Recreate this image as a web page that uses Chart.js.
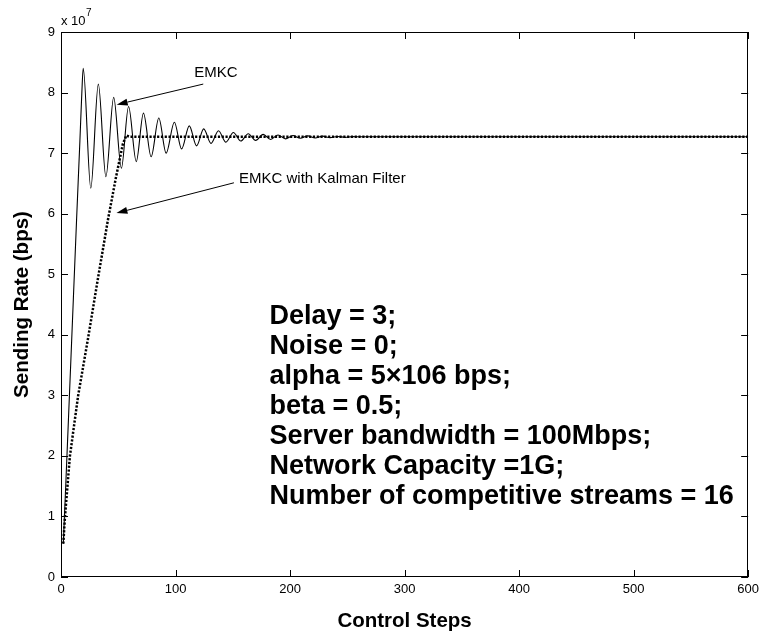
<!DOCTYPE html>
<html><head><meta charset="utf-8">
<script src="https://cdn.jsdelivr.net/npm/chart.js@4.4.1/dist/chart.umd.min.js"></script>
<style>html,body{margin:0;padding:0;background:#fff;} canvas{display:block;}</style>
</head><body>
<canvas id="c" width="764" height="635"></canvas>
<script>
// ---- data (rates in units of 10^7 bps) ----
const emkcSteps = [2, 4, 6.5, 9.3, 13.6, 16.5, 18.2, 19.4,
  26, 32.6, 39.2, 46, 52.7, 59, 65.7, 72, 78.7, 85.4, 91.8, 99, 105.3, 112, 118.4, 124.6,
  131, 137.5, 144, 150.5, 157, 163.5, 170, 176.5, 183, 189.5, 196, 202.5, 209, 215.5,
  222, 228.5, 235, 241.5, 248, 254.5, 261, 600];
const emkcRate = [0.55, 1.45, 2.6, 3.9, 5.9, 7.2, 8.0, 8.40,
  6.42, 8.14, 6.61, 7.92, 6.75, 7.77, 6.86, 7.66, 6.94, 7.58, 7.00, 7.51, 7.07, 7.45, 7.12, 7.40,
  7.16, 7.37, 7.18, 7.34, 7.20, 7.32, 7.21, 7.31, 7.225, 7.30, 7.235, 7.29, 7.245, 7.285,
  7.25, 7.28, 7.255, 7.275, 7.26, 7.272, 7.27, 7.27];
const kalmanSteps = [2, 3.5, 7.8, 15, 23.7, 32, 41, 48, 54, 57, 60, 600];
const kalmanRate = [0.55, 1.0, 2.0, 3.0, 3.95, 4.9, 5.9, 6.6, 7.15, 7.29, 7.27, 7.27];
const xTickValues = [0, 100, 200, 300, 400, 500, 600];
const yTickValues = [0, 1, 2, 3, 4, 5, 6, 7, 8, 9];
const paramLines = ["Delay = 3;", "Noise = 0;", "alpha = 5\u00d7106 bps;", "beta = 0.5;",
  "Server bandwidth = 100Mbps;", "Network Capacity =1G;", "Number of competitive streams = 16"];
const seriesNames = ["EMKC", "EMKC with Kalman Filter"];

const FONT = "'Liberation Sans', Arial, Helvetica, sans-serif";
Chart.defaults.font.family = FONT;
Chart.defaults.color = '#000';

const toPts = (xs, ys) => xs.map((x, i) => ({x: x, y: ys[i]}));

function arrow(ctx, x1, y1, x2, y2) {
  const ang = Math.atan2(y2 - y1, x2 - x1);
  const L = 11, W = 3.5;
  const bx = x2 - L * Math.cos(ang), by = y2 - L * Math.sin(ang);
  ctx.beginPath();
  ctx.moveTo(x1, y1); ctx.lineTo(bx, by); ctx.stroke();
  ctx.beginPath();
  ctx.moveTo(x2, y2);
  ctx.lineTo(bx + W * Math.sin(ang), by - W * Math.cos(ang));
  ctx.lineTo(bx - W * Math.sin(ang), by + W * Math.cos(ang));
  ctx.closePath(); ctx.fill();
}

const decor = {
  id: 'decor',
  afterDraw(chart) {
    const {ctx, chartArea: a, scales: {x, y}} = chart;
    ctx.save();
    ctx.strokeStyle = '#000'; ctx.fillStyle = '#000'; ctx.lineWidth = 1;
    // frame
    ctx.strokeRect(Math.round(a.left) + 0.5, Math.round(a.top) + 0.5,
      Math.round(a.right - a.left) - 1, Math.round(a.bottom - a.top) - 1);
    // inner ticks
    const T = 7;
    ctx.beginPath();
    xTickValues.forEach(v => {
      const px = Math.round(x.getPixelForValue(v)) + 0.5;
      ctx.moveTo(px, a.bottom); ctx.lineTo(px, a.bottom - T);
      ctx.moveTo(px, a.top); ctx.lineTo(px, a.top + T);
    });
    yTickValues.forEach(v => {
      const py = Math.round(y.getPixelForValue(v)) + 0.5;
      ctx.moveTo(a.left, py); ctx.lineTo(a.left + T, py);
      ctx.moveTo(a.right, py); ctx.lineTo(a.right - T, py);
    });
    ctx.stroke();
    // multiplier
    ctx.textBaseline = 'alphabetic'; ctx.textAlign = 'left';
    ctx.font = '13px ' + FONT;
    ctx.fillText('x 10', a.left, 25);
    const w = ctx.measureText('x 10').width;
    ctx.font = '10px ' + FONT;
    ctx.fillText('7', a.left + w + 0.5, 16);
    // annotations
    ctx.font = '15px ' + FONT;
    ctx.fillText(seriesNames[0], x.getPixelForValue(116.4), y.getPixelForValue(8.26));
    ctx.fillText(seriesNames[1], x.getPixelForValue(155.4), y.getPixelForValue(6.50));
    arrow(ctx, x.getPixelForValue(124.2), y.getPixelForValue(8.14), x.getPixelForValue(48.6), y.getPixelForValue(7.80));
    arrow(ctx, x.getPixelForValue(151), y.getPixelForValue(6.51), x.getPixelForValue(48.4), y.getPixelForValue(6.01));
    // parameter block
    ctx.font = 'bold 27px ' + FONT;
    const tx = x.getPixelForValue(182);
    paramLines.forEach((s, i) => {
      ctx.fillText(s, tx, 324 + i * 30);
    });
    ctx.restore();
  }
};

new Chart(document.getElementById('c'), {
  type: 'line',
  data: {
    datasets: [
      {label: seriesNames[1], data: toPts(kalmanSteps, kalmanRate), borderColor: '#000',
       borderWidth: 2.5, borderDash: [2.2, 1.6], pointRadius: 0, tension: 0, fill: false},
      {label: seriesNames[0], data: toPts(emkcSteps, emkcRate), borderColor: '#000',
       borderWidth: 1.1, pointRadius: 0, cubicInterpolationMode: 'monotone', fill: false}
    ]
  },
  options: {
    responsive: false, animation: false,
    layout: {padding: {left: 0, right: 12, top: 32, bottom: 0}},
    plugins: {legend: {display: false}, tooltip: {enabled: false}},
    scales: {
      x: {type: 'linear', min: 0, max: 600,
        afterFit(s) { s.height = 58; },
        afterBuildTicks(s) { s.ticks = xTickValues.map(v => ({value: v})); },
        grid: {display: false, drawTicks: false}, border: {display: false},
        ticks: {padding: 5, font: {size: 13}, color: '#000', maxRotation: 0},
        title: {display: true, text: 'Control Steps', font: {size: 20.5, weight: 'bold'}, color: '#000',
          padding: {top: 0, bottom: 1.7}}
      },
      y: {type: 'linear', min: 0, max: 9,
        afterFit(s) { s.width = 61; },
        afterBuildTicks(s) { s.ticks = yTickValues.map(v => ({value: v})); },
        grid: {display: false, drawTicks: false}, border: {display: false},
        ticks: {padding: 6, font: {size: 13}, color: '#000'},
        title: {display: true, text: 'Sending Rate (bps)', font: {size: 20.5, weight: 'bold'}, color: '#000',
          padding: {top: 9.7, bottom: 0}}
      }
    }
  },
  plugins: [decor]
});
</script>
</body></html>
